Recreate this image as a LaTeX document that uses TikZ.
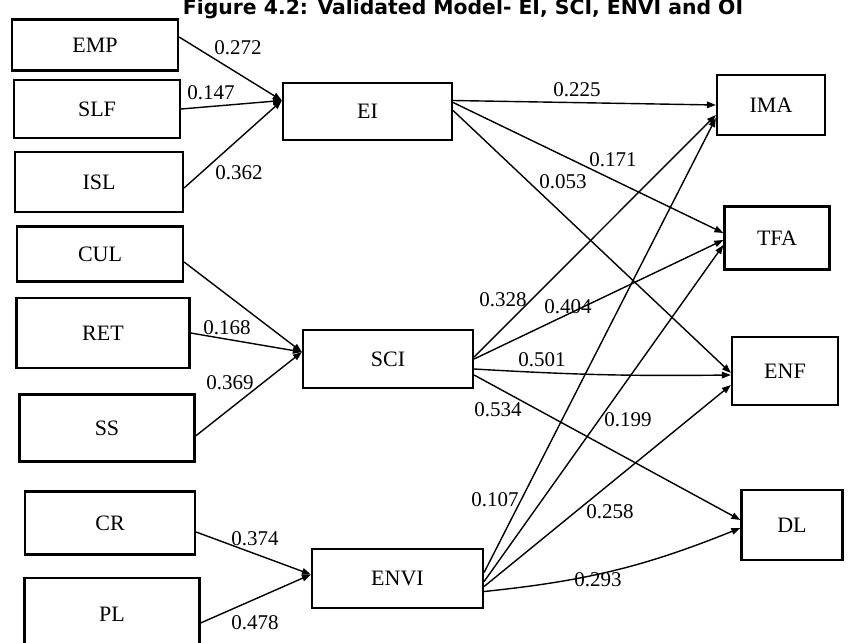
\documentclass[tikz,border=0pt]{standalone}
\usepackage{fontspec}
\usepackage{graphicx}
\setmainfont{Liberation Serif}
\newfontfamily\titlefont{DejaVu Sans}
\usetikzlibrary{arrows.meta}
\begin{document}
\begin{tikzpicture}[x=1pt,y=-1pt,
  box/.style={draw, line width=2.2pt, inner sep=0pt, font=\fontsize{22}{25}\selectfont},
  coef/.style={inner sep=0pt, font=\fontsize{21}{24}\selectfont},
  link/.style={line width=1.4pt, -{Triangle[length=9pt,width=6.5pt]}}]
\useasboundingbox (0,0) rectangle (852,643);
\fill[white] (0,0) rectangle (852,643);
% title
\node[anchor=base, inner sep=0pt] (title) at (463,14)
  {\resizebox{560pt}{!}{\titlefont\bfseries Figure 4.2: Validated Model- EI, SCI, ENVI and OI}};
% left boxes
\node[box, minimum width=166pt, minimum height=51pt] (EMP) at (95,45) {EMP};
\node[box, minimum width=166pt, minimum height=58pt] (SLF) at (97,109) {SLF};
\node[box, minimum width=168pt, minimum height=60pt] (ISL) at (99,182) {ISL};
\node[box, minimum width=166pt, minimum height=55pt] (CUL) at (100,254) {CUL};
\node[box, minimum width=173pt, minimum height=70pt] (RET) at (103,333) {RET};
\node[box, minimum width=175pt, minimum height=67pt] (SS) at (107,428) {SS};
\node[box, minimum width=170pt, minimum height=63pt] (CR) at (110,523) {CR};
\node[box, minimum width=175pt, minimum height=72pt] (PL) at (112,614) {PL};
% middle boxes
\node[box, minimum width=169pt, minimum height=57pt] (EI) at (367.5,111.5) {EI};
\node[box, minimum width=170pt, minimum height=58pt] (SCI) at (388,359) {SCI};
\node[box, minimum width=171pt, minimum height=59pt] (ENVI) at (397.5,578.5) {ENVI};
% right boxes
\node[box, minimum width=108pt, minimum height=60pt] (IMA) at (771,105) {IMA};
\node[box, minimum width=105pt, minimum height=63pt] (TFA) at (777,238) {TFA};
\node[box, minimum width=106pt, minimum height=68pt] (ENF) at (785,371) {ENF};
\node[box, minimum width=101pt, minimum height=70pt] (DL) at (792,525) {DL};
% inputs to EI
\draw[link] ([yshift=8pt]EMP.east) -- ([yshift=11pt]EI.west);
\draw[link] (SLF.east) -- ([yshift=11pt]EI.west);
\draw[link] ([yshift=-6pt]ISL.east) -- ([yshift=11pt]EI.west);
% inputs to SCI
\draw[link] ([yshift=-8pt]CUL.east) -- ([yshift=7pt]SCI.west);
\draw[link] (RET.east) -- ([yshift=7pt]SCI.west);
\draw[link] ([yshift=-8pt]SS.east) -- ([yshift=7pt]SCI.west);
% inputs to ENVI
\draw[link] ([yshift=-9pt]CR.east) -- ([yshift=4pt]ENVI.west);
\draw[link] ([yshift=-9pt]PL.east) -- ([yshift=4pt]ENVI.west);
% EI outputs
\draw[link] ([yshift=11pt]EI.east) -- (IMA.west);
\draw[link] ([yshift=9pt]EI.east) -- ([yshift=5pt]TFA.west);
\draw[link] ([yshift=1pt]EI.east) -- ([yshift=-2pt]ENF.west);
% SCI outputs
\draw[link] ([yshift=2pt]SCI.east) -- ([yshift=-10pt]IMA.west);
\draw[link] ([yshift=0pt]SCI.east) -- ([yshift=-2pt]TFA.west);
\draw[link] ([yshift=-10pt]SCI.east) to[bend right=2] ([yshift=-4pt]ENF.west);
\draw[link] ([yshift=-16pt]SCI.east) -- ([yshift=5pt]DL.west);
% ENVI outputs
\draw[link] ([yshift=6pt]ENVI.east) -- ([yshift=-13pt]IMA.west);
\draw[link] ([yshift=-3pt]ENVI.east) -- ([yshift=-7pt]TFA.west);
\draw[link] ([yshift=-8pt]ENVI.east) -- ([yshift=-14pt]ENF.west);
\draw[link] ([yshift=-13pt]ENVI.east) to[bend right=8] ([yshift=-3pt]DL.west);
% coefficients
\node[coef] (c1) at (238,48) {0.272};
\node[coef] (c2) at (211,93) {0.147};
\node[coef] (c3) at (239,173) {0.362};
\node[coef] (c4) at (227,328) {0.168};
\node[coef] (c5) at (230,383) {0.369};
\node[coef] (c6) at (255,539) {0.374};
\node[coef] (c7) at (255,623) {0.478};
\node[coef] (c8) at (577,90) {0.225};
\node[coef] (c9) at (613,160) {0.171};
\node[coef] (c10) at (563,182) {0.053};
\node[coef] (c11) at (503,300) {0.328};
\node[coef] (c12) at (568,307) {0.404};
\node[coef] (c13) at (542,360) {0.501};
\node[coef] (c14) at (498,410) {0.534};
\node[coef] (c15) at (495,500) {0.107};
\node[coef] (c16) at (628,420) {0.199};
\node[coef] (c17) at (610,512) {0.258};
\node[coef] (c18) at (598,580) {0.293};
\end{tikzpicture}
\end{document}
